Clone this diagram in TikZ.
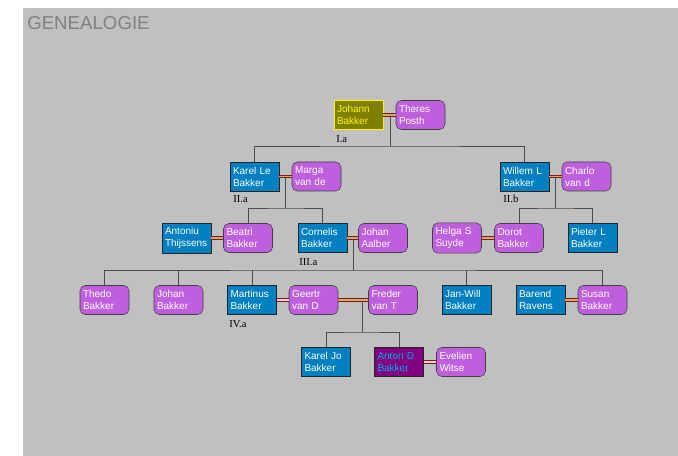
\documentclass[tikz,border=0pt]{standalone}
\usepackage{fontspec}
\setmainfont{Liberation Sans}
\newfontfamily\labelfont{Liberation Serif}
\definecolor{bggray}{RGB}{192,192,192}
\definecolor{manblue}{RGB}{0,128,192}
\definecolor{womanpink}{RGB}{190,95,222}
\definecolor{wedred}{RGB}{140,20,20}
\definecolor{wedgold}{RGB}{200,175,110}
\definecolor{rootolive}{RGB}{128,128,0}
\definecolor{selpurple}{RGB}{128,0,128}
\tikzset{
  person/.style={minimum width=36.75pt,minimum height=21.75pt,inner xsep=2.25pt,
    text width=32.25pt,align=left,font=\fontsize{7.5}{9}\selectfont,text=white},
  man/.style={person,rectangle,draw=black!85,fill=manblue},
  woman/.style={person,rectangle,rounded corners=4pt,draw=black!75,fill=womanpink},
  root/.style={person,rectangle,draw=yellow,fill=rootolive,text=yellow},
  selected/.style={person,rectangle,draw=black!85,fill=selpurple,text=cyan},
  gen/.style={anchor=west,font=\labelfont\fontsize{8}{9}\selectfont,inner sep=0pt},
  tree/.style={draw=black!70,line width=0.75pt},
  wed/.style={draw=wedred,double=wedgold,double distance=1.3pt,line width=0.6pt},
  split/.style={draw=wedred,double=bggray!60!white,double distance=1.3pt,line width=0.6pt}
}
\begin{document}
\begin{tikzpicture}[x=0.75pt,y=-0.75pt]
  \useasboundingbox (0,0) rectangle (678,456);
  \fill[bggray] (23,8) rectangle (678,456);
  \node (title) at (27,23) [anchor=west,inner sep=0pt,text=black!50,font=\fontsize{14}{16}\selectfont]{GENEALOGIE};

  % generation I
  \node (johann) at (358.5,115) [root]{Johann\\Bakker};
  \node (theres) at (420.5,115) [woman]{Theres\\Posth};
  \node (la) at (336,139) [gen]{I.a};

  % generation II
  \node (karel) at (254.5,176.5) [man]{Karel Le\\Bakker};
  \node (marga) at (316.5,176.5) [woman]{Marga\\van de};
  \node (willem) at (524.5,176.5) [man]{Willem L\\Bakker};
  \node (charlo) at (586.5,176.5) [woman]{Charlo\\van d};
  \node (lIIa) at (233,199) [gen]{II.a};
  \node (lIIb) at (503,199) [gen]{II.b};

  % generation III
  \node (antoniu) at (186.5,238) [man]{Antoniu\\Thijssens};
  \node (beatri) at (248,238) [woman]{Beatri\\Bakker};
  \node (cornelis) at (322.5,238) [man]{Cornelis\\Bakker};
  \node (aalber) at (383,238) [woman]{Johan\\Aalber};
  \node (helga) at (457,238) [woman]{Helga S\\Suyde};
  \node (dorot) at (519,238) [woman]{Dorot\\Bakker};
  \node (pieter) at (592.5,238) [man]{Pieter L\\Bakker};
  \node (lIIIa) at (299,262) [gen]{III.a};

  % generation IV
  \node (thedo) at (104.5,300) [woman]{Thedo\\Bakker};
  \node (johanb) at (178.5,300) [woman]{Johan\\Bakker};
  \node (martinus) at (252,300) [man]{Martinus\\Bakker};
  \node (geertr) at (313.5,300) [woman]{Geertr\\van D};
  \node (freder) at (393,300) [woman]{Freder\\van T};
  \node (janwill) at (466.5,300) [man]{Jan-Will\\Bakker};
  \node (barend) at (540.5,300) [man]{Barend\\Ravens};
  \node (susan) at (602.5,300) [woman]{Susan\\Bakker};
  \node (lIVa) at (229,324) [gen]{IV.a};

  % generation V
  \node (kareljo) at (326,362) [man]{Karel Jo\\Bakker};
  \node (anton) at (399,362) [selected]{Anton D\\Bakker};
  \node (evelien) at (461,362) [woman]{Evelien\\Witse};

  % descent lines
  \coordinate (m1) at (390,115);
  \coordinate (b1) at (390,147);
  \draw[tree] (m1) -- (b1);
  \draw[tree] (karel) |- (b1) -| (willem);

  \coordinate (m2) at (285.5,178);
  \coordinate (b2) at (285.5,208);
  \draw[tree] (m2) -- (b2);
  \draw[tree] (beatri) |- (b2) -| (cornelis);

  \coordinate (m3) at (555.5,178);
  \coordinate (b3) at (555.5,208);
  \draw[tree] (m3) -- (b3);
  \draw[tree] (dorot) |- (b3) -| (pieter);

  \coordinate (m4) at (353,238);
  \coordinate (b4) at (353,270);
  \draw[tree] (m4) -- (b4);
  \draw[tree] (thedo) |- (b4) -| (susan);
  \foreach \n in {johanb,martinus,janwill}
    \draw[tree] (\n) -- (\n |- b4);

  \coordinate (m5) at (362,300);
  \coordinate (b5) at (362,332);
  \draw[tree] (m5) -- (b5);
  \draw[tree] (kareljo) |- (b5) -| (anton);

  % marriages
  \draw[wed] (johann) -- (theres);
  \draw[wed] (karel) -- (marga);
  \draw[wed] (willem) -- (charlo);
  \draw[wed] (antoniu) -- (beatri);
  \draw[wed] (cornelis) -- (aalber);
  \draw[wed] (helga) -- (dorot);
  \draw[split] (martinus) -- (geertr);
  \draw[wed] (geertr) -- (freder);
  \draw[wed] (barend) -- (susan);
  \draw[split] (anton) -- (evelien);

\end{tikzpicture}
\end{document}
